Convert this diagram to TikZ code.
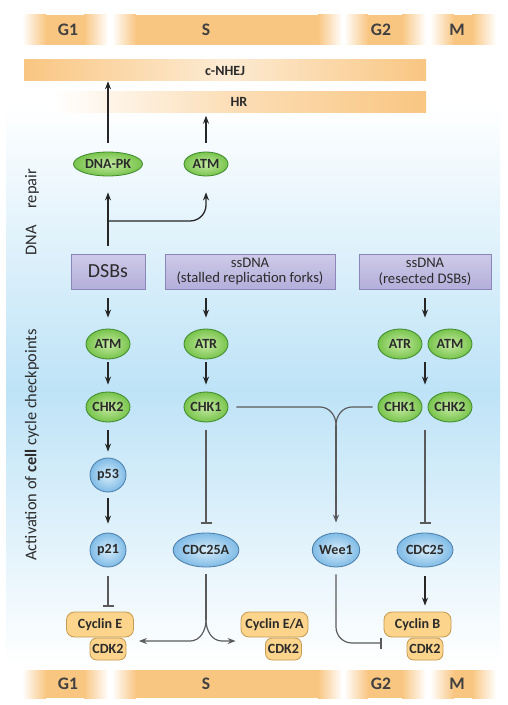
\documentclass[tikz,border=0pt]{standalone}
\usepackage{fontspec}
\setmainfont{Carlito}
\usepackage{tikz}
\usetikzlibrary{shapes.geometric, calc, positioning, arrows.meta}
\usepackage{xcolor}
\definecolor{kingreen}{HTML}{78C44C}
\definecolor{kinlight}{HTML}{C6EAA4}
\definecolor{kinborder}{HTML}{3E8A2C}
\definecolor{effblue}{HTML}{7FBBE6}
\definecolor{efflight}{HTML}{D8EDFA}
\definecolor{effborder}{HTML}{4B7DA8}
\definecolor{lesion}{HTML}{B4AEDB}
\definecolor{lesionborder}{HTML}{8B86B8}
\definecolor{cyclinfill}{HTML}{FCD48C}
\definecolor{cyclinborder}{HTML}{C69A4F}
\definecolor{phaseorange}{HTML}{F9C682}
\definecolor{bgblue}{HTML}{BEE3F7}
\definecolor{linegray}{HTML}{5A5A5A}
\definecolor{txtdark}{HTML}{2B2B2B}
\newcommand{\px}{0.3mm}

\begin{document}
\begin{tikzpicture}[x=0.3mm,y=-0.3mm,>={Stealth[length=2.4mm,width=1.8mm]}]
        \tikzstyle{kinase}=[ellipse, draw=kinborder, line width=0.7pt, inner color=kinlight, outer color=kingreen, inner sep=0pt, minimum width=44*\px, minimum height=30*\px, text=txtdark, font=\fontsize{12}{13}\selectfont\bfseries]
        \tikzstyle{effector}=[ellipse, draw=effborder, line width=0.7pt, inner color=efflight, outer color=effblue, inner sep=0pt, minimum width=56*\px, minimum height=34*\px, text=txtdark, font=\fontsize{12}{13}\selectfont\bfseries]
        \tikzstyle{damage}=[rectangle, draw=lesionborder, line width=0.8pt, top color=lesion!65, bottom color=lesion, inner sep=0pt, minimum height=35*\px, align=center, text=txtdark, font=\fontsize{12.5}{13.5}\selectfont]
        \tikzstyle{cyclin}=[rectangle, rounded corners=2.4mm, draw=cyclinborder, line width=0.7pt, fill=cyclinfill, inner sep=0pt, minimum width=67*\px, minimum height=25*\px, text=txtdark, font=\fontsize{12}{13}\selectfont\bfseries]
        \tikzstyle{cdk}=[cyclin, rounded corners=2mm, minimum width=36*\px, minimum height=22*\px]
        \tikzstyle{repairbar}=[rectangle, inner sep=0pt, minimum height=21*\px, text=txtdark, font=\fontsize{12}{13}\selectfont\bfseries]
        \tikzstyle{phase}=[text=txtdark!90, font=\fontsize{15}{16}\selectfont\bfseries]
        \tikzstyle{side}=[rotate=90, text=txtdark, font=\fontsize{14}{15}\selectfont]
        \tikzstyle{act}=[->, line width=1.1pt, draw=black!85]
        \tikzstyle{link}=[line width=1pt, draw=linegray]
        \tikzstyle{inhib}=[link, -{Bar[width=3.3mm]}]

        \useasboundingbox (0,0) rectangle (507,705);
        \fill[white] (0,0) rectangle (507,705);

        % Background glow
        \shade[top color=white, bottom color=bgblue] (6,105) rectangle (500,390);
        \shade[top color=bgblue, bottom color=white] (6,390) rectangle (500,665);

        % Cell cycle phases (top and bottom)
        \foreach \xa/\xb in {22/108, 112/342, 344/426, 430/496}{
            \foreach \ya/\yb in {15/45, 670/698}{
                \shade[left color=white, right color=phaseorange] (\xa,\ya) rectangle (\xa+24,\yb);
                \fill[phaseorange] (\xa+24,\ya) rectangle (\xb-24,\yb);
                \shade[left color=phaseorange, right color=white] (\xb-24,\ya) rectangle (\xb,\yb);
            }
        }
        \node[phase] (g1top) at (68,30) {G1};
        \node[phase] (stop) at (206,30) {S};
        \node[phase] (g2top) at (381,30) {G2};
        \node[phase] (mtop) at (457,30) {M};
        \node[phase] (g1bot) at (68,684) {G1};
        \node[phase] (sbot) at (206,684) {S};
        \node[phase] (g2bot) at (381,684) {G2};
        \node[phase] (mbot) at (457,684) {M};

        % Repair pathways
        \node[repairbar, minimum width=402*\px, left color=phaseorange, right color=phaseorange, middle color=phaseorange!35] (nhej) at (225,70.5) {c-NHEJ};
        \node[repairbar, minimum width=374*\px, left color=white, right color=phaseorange, middle color=phaseorange!60] (hr) at (239,102) {HR};

        % Side labels
        \node[side] (lblrep) at (32,212) {DNA\quad repair};
        \node[side] (lblchk) at (32,445) {Activation of \textbf{cell} cycle checkpoints};

        % Lesions
        \node[damage, minimum width=74*\px, font=\fontsize{17}{18}\selectfont] (dsb) at (108,271.5) {DSBs};
        \node[damage, minimum width=170*\px] (ssst) at (250,271.5) {ssDNA\\(stalled replication forks)};
        \node[damage, minimum width=132*\px] (ssre) at (425,271.5) {ssDNA\\(resected DSBs)};

        % Repair kinases
        \node[kinase, minimum width=69*\px, minimum height=24*\px] (dnapk) at (108,164) {DNA-PK};
        \node[kinase, minimum height=24*\px] (atmR) at (206,164) {ATM};

        % Checkpoint kinases
        \node[kinase] (atmA) at (108,344) {ATM};
        \node[kinase] (atrB) at (206,344) {ATR};
        \node[kinase] (atrC) at (400,344) {ATR};
        \node[kinase] (atmC) at (450,344) {ATM};
        \node[kinase] (chk2a) at (108,407) {CHK2};
        \node[kinase] (chk1b) at (206,407) {CHK1};
        \node[kinase] (chk1c) at (400,407) {CHK1};
        \node[kinase] (chk2c) at (450,407) {CHK2};

        % Effectors
        \node[effector, minimum width=36*\px] (p53) at (108,475) {p53};
        \node[effector, minimum width=36*\px] (p21) at (108,550) {p21};
        \node[effector] (cdca) at (206,550) {CDC25A};
        \node[effector, minimum width=37*\px] (wee) at (336,550) {Wee1};
        \node[effector] (cdcb) at (425,550) {CDC25};

        % Cyclin/CDK complexes
        \node[cdk] (cdkE) at (108,649) {CDK2};
        \node[cyclin] (cycE) at (100,624.5) {Cyclin E};
        \node[cdk] (cdkEA) at (283.5,649) {CDK2};
        \node[cyclin] (cycEA) at (274.5,624.5) {Cyclin E/A};
        \node[cdk] (cdkB) at (425,649) {CDK2};
        \node[cyclin] (cycB) at (417.5,624.5) {Cyclin B};

        % --- DNA repair arrows ---
        \draw[act, shorten <=2.7mm] (dnapk) -- (dnapk |- nhej.south);
        \draw[act, shorten <=2.7mm, shorten >=0.9mm] (atmR) -- (atmR |- hr.south);
        \draw[act, shorten <=2.4mm, shorten >=4.8mm] (dsb) -- (dnapk);
        \coordinate (fork) at (108,221);
        \draw[act, shorten >=4.8mm] (fork) -- ($(fork -| atmR)+(-16,0)$) to[out=0,in=-90] ($(fork -| atmR)+(0,-16)$) -- (atmR);

        % --- Checkpoint arrows ---
        \coordinate (pairtop) at ($(atrC.north)!0.5!(atmC.north)$);
        \coordinate (pairbot) at ($(atrC.south)!0.5!(atmC.south)$);
        \coordinate (chktop) at ($(chk1c.north)!0.5!(chk2c.north)$);
        \coordinate (chkbot) at ($(chk1c.south)!0.5!(chk2c.south)$);
        \draw[act, shorten <=2.7mm, shorten >=3.3mm] (dsb) -- (atmA);
        \draw[act, shorten <=2.7mm, shorten >=3.3mm] (ssst.south -| atrB) -- (atrB);
        \draw[act, shorten <=2.7mm, shorten >=3.3mm] (ssre.south -| pairtop) -- (pairtop);
        \draw[act, shorten <=0.9mm, shorten >=2.1mm] (atmA) -- (chk2a);
        \draw[act, shorten <=0.9mm, shorten >=2.1mm] (atrB) -- (chk1b);
        \draw[act, shorten <=0.9mm, shorten >=2.1mm] (pairbot) -- (chktop);
        \draw[act, shorten <=2.4mm, shorten >=1.8mm] (chk2a) -- (p53);
        \draw[act, shorten <=1.8mm, shorten >=2.7mm] (p53) -- (p21);

        % Inhibition of CDC25A / CDC25
        \draw[inhib, shorten <=2.4mm, shorten >=2.7mm] (chk1b) -- (cdca);
        \draw[inhib, shorten <=2.4mm, shorten >=2.7mm] (chkbot) -- (cdcb);

        % CHK1 to Wee1
        \coordinate (merge) at (336,425);
        \draw[link, shorten <=2.4mm] (chk1b) -- ($(merge)+(-16,-18)$) to[out=0,in=90] (merge);
        \draw[link, shorten <=1.5mm] (chk1c) -- ($(merge)+(16,-18)$) to[out=180,in=90] (merge);
        \draw[link, ->, shorten >=3mm] (merge) -- (wee);

        % --- Effectors on cyclin/CDK ---
        \draw[inhib, shorten <=2.7mm, shorten >=1.5mm] (p21) -- (p21 |- cycE.north);
        \coordinate (split) at (206,620);
        \draw[link, shorten <=2.1mm] (cdca) -- (split);
        \draw[link, ->] (split) to[out=-90,in=0] ($(split)+(-16,21)$) -- ($(cycE.east |- split)+(5,21)$);
        \draw[link, ->] (split) to[out=-90,in=180] ($(split)+(16,21)$) -- ($(cycEA.west |- split)+(-5,21)$);
        \draw[inhib, shorten <=2.1mm] (wee) -- ($(wee)+(0,77)$) to[out=-90,in=180] ($(wee)+(16,93)$) -- ($(cycB.west |- wee)+(-2,93)$);
        \draw[act, line width=1.5pt, shorten <=2.7mm, shorten >=1.8mm] (cdcb) -- (cdcb |- cycB.north);
\end{tikzpicture}
\end{document}
